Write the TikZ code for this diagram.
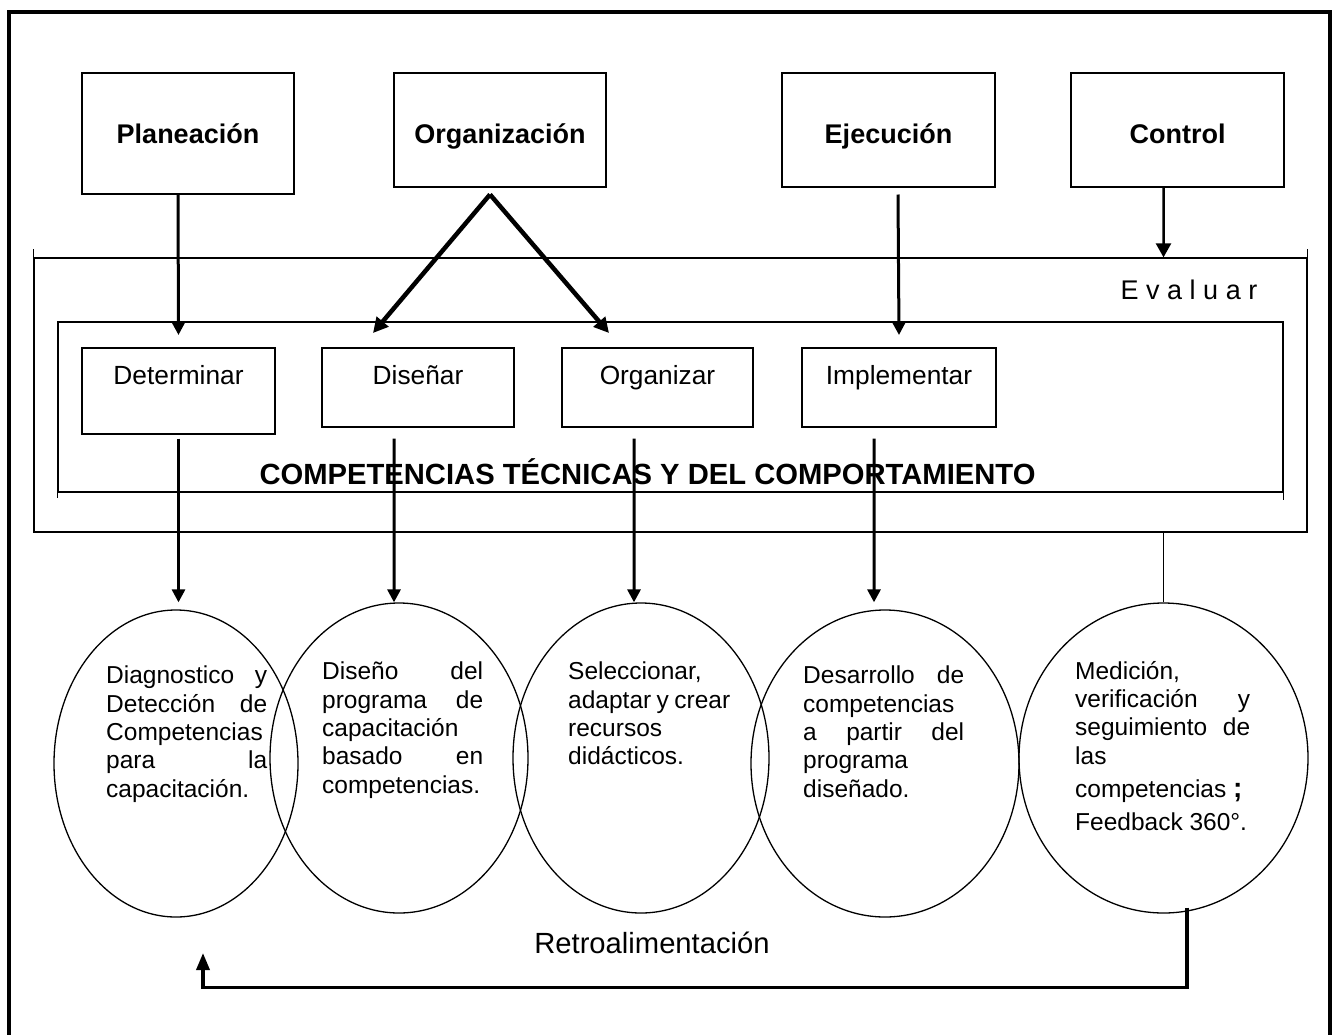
\documentclass[tikz,border=0pt]{standalone}
\usepackage{fontspec}
\setmainfont{Liberation Sans}
\usetikzlibrary{arrows.meta,shapes.geometric}

\begin{document}
\begin{tikzpicture}[x=10pt, y=10pt]
        \tikzstyle{every node}+=[inner sep=0pt]
        \tikzstyle{topbox}=[draw, line width=1.5pt, anchor=north, text height=70.5pt, font=\bfseries\fontsize{27}{32}\selectfont]
        \tikzstyle{stepbox}=[draw, line width=1.5pt, anchor=north, text height=37pt, font=\fontsize{26.3}{31}\selectfont]
        \tikzstyle{framebox}=[draw, line width=1.3pt]
        \tikzstyle{bubble}=[ellipse, draw, line width=1.3pt]
        \tikzstyle{bubbletext}=[anchor=north west, align=justify, font=\fontsize{24.5}{28.3}\selectfont]
        \tikzstyle{arr}=[line width=3pt, -{Triangle[length=13pt,width=13pt]}]
        \tikzstyle{fatarr}=[line width=4.5pt, -{Triangle[length=15pt,width=15pt]}]
        \useasboundingbox (0,0) rectangle (133.9,-103.4);
        \draw [line width=3.5pt] (0.9,-104) -- (0.9,-1.2) -- (133.0,-1.2) -- (133.0,-104);
        \node (pla) [topbox, minimum width=212pt, text depth=50.5pt] at (18.8,-7.2) {Planeación};
        \node (org) [topbox, minimum width=212pt, text depth=43.5pt] at (50.0,-7.2) {Organización};
        \node (eje) [topbox, minimum width=213pt, text depth=43.5pt] at (88.85,-7.2) {Ejecución};
        \node (con) [topbox, minimum width=213pt, text depth=43.5pt] at (117.75,-7.2) {Control};
        \node (evaluar) [framebox, minimum width=1273pt, minimum height=274pt] at (67.05,-39.5) {};
        \draw [line width=1.3pt] (evaluar.north west) -- ++(0,0.8);
        \draw [line width=1.3pt] (evaluar.north east) -- ++(0,0.8);
        \node (evaltxt) [font=\fontsize{27}{32}\selectfont] at (118.9,-29.0) {E v a l u a r};
        \node (cbox) [framebox, minimum width=1225pt, minimum height=170pt] at (67.05,-40.7) {};
        \draw [line width=1.3pt] (cbox.south west) -- ++(0,-0.5);
        \draw [line width=1.3pt] (cbox.south east) -- ++(0,-0.7);
        \node (det) [stepbox, minimum width=193pt, text depth=49pt] at (17.85,-34.7) {Determinar};
        \node (dis) [stepbox, minimum width=192pt, text depth=42pt] at (41.8,-34.7) {Diseñar};
        \node (oz) [stepbox, minimum width=191pt, text depth=42pt] at (65.75,-34.7) {Organizar};
        \node (imp) [stepbox, minimum width=194pt, text depth=42pt] at (89.9,-34.7) {Implementar};
        \node (comp) [font=\bfseries\fontsize{29.2}{34}\selectfont] at (64.75,-47.2) {COMPETENCIAS TÉCNICAS Y DEL COMPORTAMIENTO};
        \node (e1) [bubble, minimum width=244pt, minimum height=307pt] at (17.6,-76.35) {};
        \node (e2) [bubble, minimum width=258pt, minimum height=310pt] at (39.9,-75.8) {};
        \node (e3) [bubble, minimum width=256pt, minimum height=310pt] at (64.1,-75.8) {};
        \node (e4) [bubble, minimum width=268pt, minimum height=307pt] at (88.5,-76.35) {};
        \node (e5) [bubble, minimum width=289pt, minimum height=310pt] at (116.35,-75.8) {};
        \node (t1) [bubbletext, text width=161pt] at (10.6,-66.6) {Diagnostico y\linebreak Detección de\linebreak Competencias\\ para la\linebreak capacitación.};
        \node (t2) [bubbletext, text width=161pt] at (32.2,-66.2) {Diseño del\linebreak programa de\linebreak capacitación\\ basado en\linebreak competencias.};
        \node (t3) [bubbletext, text width=162pt] at (56.8,-66.2) {Seleccionar,\\ adaptar y crear\\ recursos\\ didácticos.};
        \node (t4) [bubbletext, text width=161pt] at (80.3,-66.6) {Desarrollo de\linebreak competencias\\ a partir del\linebreak programa\\ diseñado.};
        \node (t5) [bubbletext, text width=175pt] at (107.5,-66.1) {Medición,\\ verificación y\linebreak seguimiento de\linebreak las\\[5pt] competencias {\bfseries\fontsize{28}{28}\selectfont;}\\[5pt] Feedback 360°.};
        \node (retro) [font=\fontsize{29.2}{34}\selectfont] at (65.2,-94.3) {Retroalimentación};
        \draw [arr] ([xshift=-10pt]pla.south) -- ([yshift=12pt]det.north);
        \draw [fatarr] ([xshift=-10pt,yshift=-7pt]org.south) -- ([xshift=-45pt,yshift=14pt]dis.north);
        \draw [fatarr] ([xshift=-10pt,yshift=-7pt]org.south) -- ([xshift=-48.5pt,yshift=14pt]oz.north);
        \draw [arr] ([xshift=9.5pt,yshift=-7pt]eje.south) -- ([yshift=12pt]imp.north);
        \draw [line width=2.5pt, -{Triangle[length=14pt,width=15pt]}] ([xshift=-14pt]con.south) -- (evaluar.north -| e5.north);
        \draw [arr] ([yshift=-4pt]det.south) -- ([xshift=2.5pt,yshift=7pt]e1.north);
        \draw [arr] ([xshift=-24pt,yshift=-11pt]dis.south) -- ([xshift=-5pt]e2.north);
        \draw [arr] ([xshift=-23.5pt,yshift=-11pt]oz.south) -- ([xshift=-7pt]e3.north);
        \draw [arr] ([xshift=-25pt,yshift=-11pt]imp.south) -- ([xshift=-11pt,yshift=7pt]e4.north);
        \draw [line width=1.3pt] (evaluar.south -| e5.north) -- (e5.north);
        \coordinate (fbend) at (20.3,-95.3);
        \draw [line width=3.5pt, -{Triangle[length=17pt,width=13pt]}] ([xshift=23.5pt,yshift=6pt]e5.south) -- ++(0,-8) -| (fbend);
\end{tikzpicture}
\end{document}
